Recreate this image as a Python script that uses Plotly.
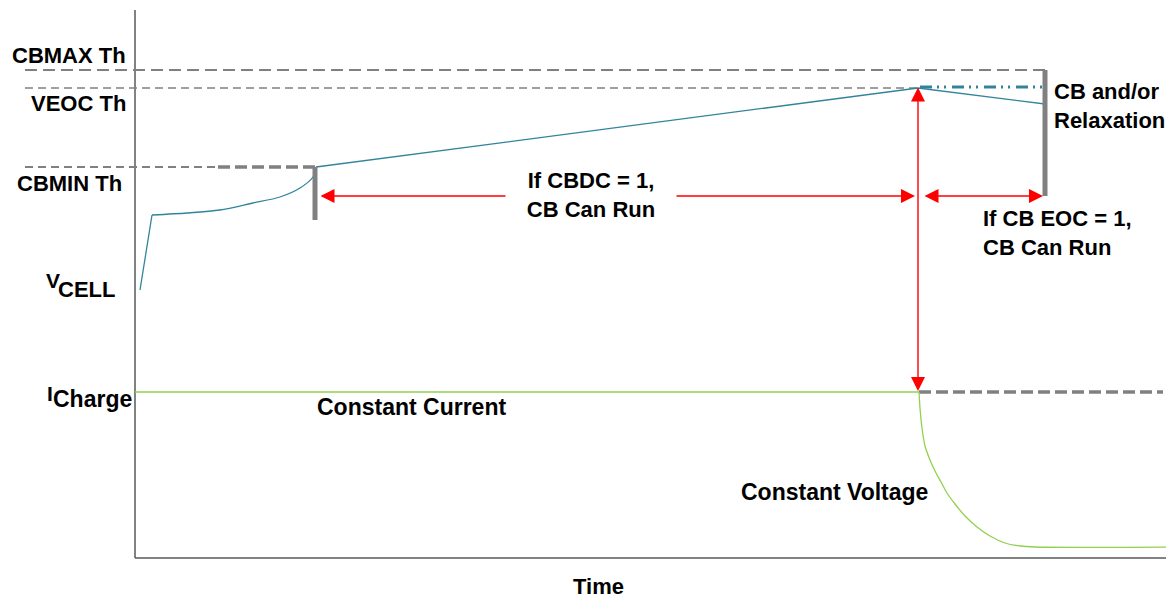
import plotly.graph_objects as go

# ---------------- data (diagram units: time t, level v) ----------------
T_END = 1037          # end of time axis
V_TOP = 548           # top of vertical axis
CBMAX_TH = 488
VEOC_TH = 470
CBMIN_TH = 391
I_CHARGE = 166
TH_START = -110       # threshold lines start left of the axis

T_CBMIN = 181         # time VCELL crosses CBMIN
T_EOC = 783           # time VCELL reaches VEOC (CC -> CV)
T_CB_END = 910        # end of CB / relaxation window

vcell_t = [5, 17, 52, 85, 118, 145, 165, 178, 181, 783, 910]
vcell_v = [268, 343, 345, 348, 355, 361, 370, 381, 391, 470, 454]

icharge_t = [0, 784, 785, 787, 790, 795, 800, 806, 812, 820, 830, 842, 855, 870, 885, 900, 1037]
icharge_v = [166, 166, 150, 130, 112, 98, 87, 76, 65, 54, 42, 31, 22, 15, 12, 11, 11]

cbmin_bar = [338, 391]     # grey marker bar at CBMIN crossing
cb_end_bar = [362, 488]    # grey marker bar at CB window end
arrow_level = 362
cbdc_span = [184, 784]
cbeoc_span = [784, 910]
eoc_arrow = [472, 167]
icharge_dash_end = 1028

TEAL = "#31849B"
GREEN = "#92D050"
GREY = "#808080"
RED = "#FF0000"
AXIS = "#595959"
FONT = "Liberation Sans, Arial, sans-serif"

fig = go.Figure()


def line(x, y, color, width, dash="solid", shape="linear"):
    fig.add_trace(go.Scatter(x=x, y=y, mode="lines", hoverinfo="skip",
                             line=dict(color=color, width=width, dash=dash,
                                       shape=shape, smoothing=0.8)))


# axes
line([0, 0], [0, V_TOP], AXIS, 1.5)
line([0, T_END], [0, 0], AXIS, 1.5)

# thresholds
line([TH_START, T_CB_END], [CBMAX_TH, CBMAX_TH], GREY, 2, "12px,6px")
line([TH_START, T_EOC], [VEOC_TH, VEOC_TH], GREY, 1.5, "8px,5px")
line([TH_START, 83], [CBMIN_TH, CBMIN_TH], GREY, 2, "8px,5px")
line([83, T_CBMIN - 1], [CBMIN_TH, CBMIN_TH], GREY, 3.5, "12px,5px")
line([T_EOC + 1, icharge_dash_end], [I_CHARGE, I_CHARGE], GREY, 3.5, "12px,5px")

# teal dash-dot-dot at VEOC during CB window
line([T_EOC + 2, T_CB_END], [VEOC_TH + 1, VEOC_TH + 1], TEAL, 3,
     "12px,5px,2px,5px,2px,6px")

# VCELL: initial rise, curved CC segment, then straight ramp + relaxation
line(vcell_t[:2], vcell_v[:2], TEAL, 1.3)
line(vcell_t[1:9], vcell_v[1:9], TEAL, 1.3, shape="spline")
line(vcell_t[8:], vcell_v[8:], TEAL, 1.3)

# charge current
line(icharge_t[:2], icharge_v[:2], GREEN, 1.3)
line(icharge_t[1:], icharge_v[1:], GREEN, 1.3, shape="spline")

# grey bars
line([T_CBMIN - 1, T_CBMIN - 1], cbmin_bar, GREY, 5)
line([T_CB_END, T_CB_END], cb_end_bar, GREY, 5)

annotations = []


def arrow(x0, y0, x1, y1):
    annotations.append(dict(x=x1, y=y1, ax=x0, ay=y0, xref="x", yref="y",
                            axref="x", ayref="y", text="", showarrow=True,
                            arrowhead=2, startarrowhead=2, arrowside="end+start",
                            arrowsize=2, startarrowsize=2, arrowwidth=1.4,
                            arrowcolor=RED))


arrow(cbdc_span[0], arrow_level, cbdc_span[1] - 4, arrow_level)
arrow(cbeoc_span[0] + 4, arrow_level, cbeoc_span[1] - 2, arrow_level)
arrow(T_EOC, eoc_arrow[0], T_EOC, eoc_arrow[1])


def label(x, y, text, xanchor="center", size=22, **kw):
    d = dict(x=x, y=y, xref="x", yref="y", text="<b>" + text + "</b>",
             showarrow=False, xanchor=xanchor, yanchor="middle",
             font=dict(family=FONT, size=size, color="black"))
    d.update(kw)
    annotations.append(d)


label(-7, 503, "CBMAX Th", "right")
label(-7, 455, "VEOC Th", "right")
label(-11, 375, "CBMIN Th", "right")
label(-73, 278, "V", "right", size=21)
label(-79, 269, "CELL", "left", size=22)
label(-80, 165, "I", "right", size=21)
label(-84, 159, "Charge", "left", size=23)
label(456, 363, "If CBDC = 1,<br>CB Can Run", "center", width=168,
      bgcolor="white", align="center")
label(180, 151.5, "Constant Current", "left", size=23)
label(604, 66, "Constant Voltage", "left", size=23)
label(917, 452, "CB and/or<br>Relaxation", "left", align="left")
label(846, 325, "If CB EOC = 1,<br>CB Can Run", "left", align="left")
label(463, -28, "Time", "center", borderpad=0)

# the page body adds an 8px offset; figure is sized to fit the window
fig.update_layout(
    width=1166, height=591,
    margin=dict(l=0, r=0, t=0, b=0),
    paper_bgcolor="white", plot_bgcolor="white",
    showlegend=False,
    xaxis=dict(range=[-127, 1039], visible=False, fixedrange=True),
    yaxis=dict(range=[-41, 550], visible=False, fixedrange=True),
    annotations=annotations,
)

fig.write_html("out.html", config={"displayModeBar": False})
